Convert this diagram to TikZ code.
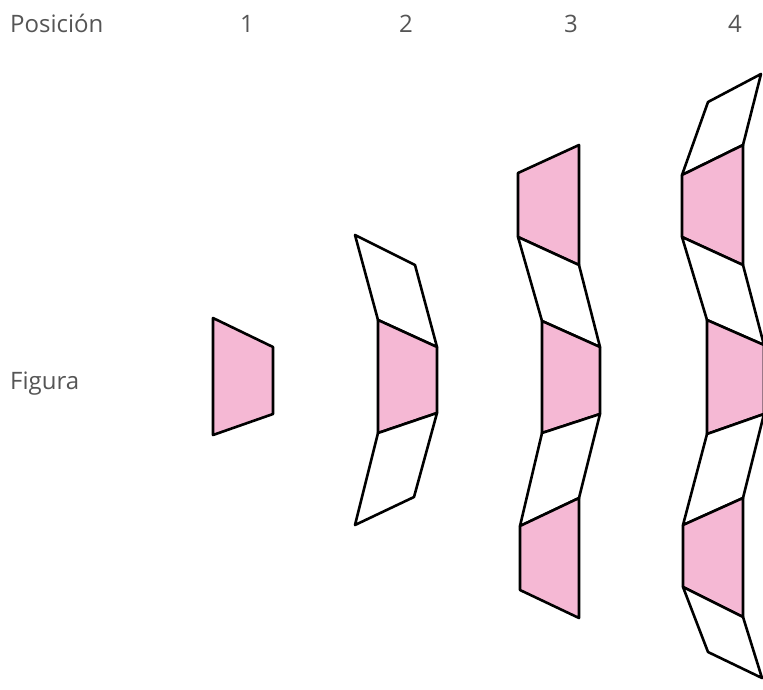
\documentclass[tikz,border=0pt]{standalone}
\usepackage{fontspec}
\setmainfont{Open Sans}
\definecolor{pinkfill}{RGB}{245,184,212}
\definecolor{labelgray}{RGB}{85,85,85}
\tikzset{
  pinkpiece/.style={fill=pinkfill, draw=black, line width=2.6pt, line join=round},
  whitepiece/.style={fill=white, draw=black, line width=2.6pt, line join=round},
  lbl/.style={text=labelgray, font=\fontsize{24}{28}\selectfont, inner sep=0pt, anchor=base west},
  num/.style={text=labelgray, font=\fontsize{24}{28}\selectfont, inner sep=0pt, anchor=base}
}
\begin{document}
\begin{tikzpicture}[x=1pt,y=-1pt]
\useasboundingbox (0,0) rectangle (763,689);
\clip (0,0) rectangle (763,689);
\fill[white] (0,0) rectangle (763,689);
% labels
\node[lbl] (pos) at (10,32) {Posición};
\node[num] (n1) at (247,32) {1};
\node[num] (n2) at (406,32) {2};
\node[num] (n3) at (571,32) {3};
\node[num] (n4) at (735,32) {4};
\node[lbl] (fig) at (10,389) {Figura};
% figure 1
\draw[pinkpiece] (213,318) -- (273,347) -- (273,414) -- (213,435) -- cycle;
% figure 2
\draw[whitepiece] (355,235) -- (415,265) -- (437,347) -- (378,320) -- cycle;
\draw[pinkpiece] (378,320) -- (437,347) -- (437,413) -- (378,433) -- cycle;
\draw[whitepiece] (378,433) -- (437,413) -- (414,497) -- (355,525) -- cycle;
% figure 3
\draw[pinkpiece] (518,173) -- (579,145) -- (579,265) -- (518,237) -- cycle;
\draw[whitepiece] (518,237) -- (579,265) -- (600,347) -- (542,321) -- cycle;
\draw[pinkpiece] (542,321) -- (600,347) -- (600,414) -- (542,433) -- cycle;
\draw[whitepiece] (542,433) -- (600,414) -- (579,498) -- (520,526) -- cycle;
\draw[pinkpiece] (520,526) -- (579,498) -- (579,618) -- (520,590) -- cycle;
% figure 4
\draw[whitepiece] (708,102) -- (761,74) -- (743,145) -- (682,175) -- cycle;
\draw[pinkpiece] (682,175) -- (743,145) -- (743,265) -- (682,237) -- cycle;
\draw[whitepiece] (682,237) -- (743,265) -- (764,345) -- (707,320) -- cycle;
\draw[pinkpiece] (707,320) -- (764,345) -- (764,414) -- (707,434) -- cycle;
\draw[whitepiece] (707,434) -- (764,414) -- (743,498) -- (683,525) -- cycle;
\draw[pinkpiece] (683,525) -- (743,498) -- (743,617) -- (683,587) -- cycle;
\draw[whitepiece] (683,587) -- (743,617) -- (762,678) -- (708,652) -- cycle;
\end{tikzpicture}
\end{document}
